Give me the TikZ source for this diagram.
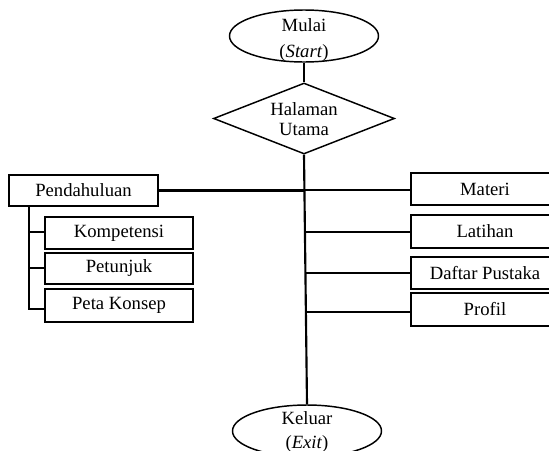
\documentclass[tikz,border=0pt]{standalone}
\usepackage{fontspec}
\setmainfont{Liberation Serif}
\usetikzlibrary{shapes.geometric}
\begin{document}
\begin{tikzpicture}[x=0.75pt,y=-0.75pt,
  every node/.style={font=\fontsize{14}{19.5}\selectfont, inner sep=0pt, align=center},
  term/.style={ellipse, draw, line width=1.1pt, minimum width=149*0.75pt, minimum height=52*0.75pt},
  decis/.style={diamond, draw, line width=1.1pt, minimum width=181*0.75pt, minimum height=71*0.75pt},
  menubox/.style={rectangle, draw, line width=1.1pt, minimum width=148*0.75pt, minimum height=32*0.75pt},
  link/.style={line width=1.6pt}]
\clip (0,0) rectangle (549,450);
\useasboundingbox (0,0) rectangle (549,450);
\node[term] (mulai) at (304,36) {};
\node[font=\fontsize{14}{19.5}\selectfont] (mulaitxt) at (304,40) {Mulai\\(\textit{Start})};
\node[decis] (utama) at (304,118.5) {};
\node[font=\fontsize{14}{15}\selectfont] (utamatxt) at (304,119) {Halaman\\Utama};
\node[term] (keluar) at (307,431) {};
\node[font=\fontsize{14}{18}\selectfont] (keluartxt) at (307,432) {Keluar\\(\textit{Exit})};
\node[menubox, minimum width=149*0.75pt, minimum height=31*0.75pt] (pend) at (83.5,190.5) {Pendahuluan};
\node[menubox] (komp) at (119,233) {Kompetensi};
\node[menubox, minimum height=31*0.75pt] (petu) at (119,268.5) {Petunjuk};
\node[menubox, minimum height=33*0.75pt] (peta) at (119,305.5) {Peta Konsep};
\node[menubox] (materi) at (485,189) {Materi};
\node[menubox, minimum height=33*0.75pt] (latihan) at (485,231.5) {Latihan};
\node[menubox] (daftar) at (485,273) {Daftar Pustaka};
\node[menubox, minimum height=33*0.75pt] (profil) at (485,309.5) {Profil};
\coordinate (spine) at (305,0);
\coordinate (sub) at (29,0);
\draw[link] (mulai.south) -- (utama.north);
\draw[link] (utama.south) -- (keluar.north);
\draw[link] (pend.east) -- (pend.east -| spine);
\draw[link] (materi.west |- 0,190) -- (spine |- 0,190);
\draw[link] (latihan.west |- 0,232) -- (spine |- 0,232);
\draw[link] (daftar.west |- 0,273) -- (spine |- 0,273);
\draw[link] (profil.west |- 0,312) -- (spine |- 0,312);
\draw[link] (sub |- pend.south) -- (sub |- 0,309) -- (peta.west |- 0,309);
\draw[link] (sub |- 0,232) -- (komp.west |- 0,232);
\draw[link] (sub |- 0,268) -- (petu.west |- 0,268);
\end{tikzpicture}
\end{document}
